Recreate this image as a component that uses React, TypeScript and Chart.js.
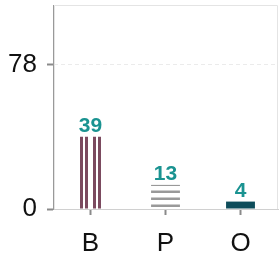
import React, { useEffect, useRef } from "react";
import { Chart, registerables } from "chart.js";

Chart.register(...registerables);

const categories = ["B", "P", "O"];
const values = [39, 13, 4];
const yTickValues = [0, 78];
const yMax = 110;

const FONT = "'Liberation Sans', Arial, sans-serif";

function verticalStripes(color: string) {
  const c = document.createElement("canvas");
  c.width = 13;
  c.height = 10;
  const g = c.getContext("2d")!;
  g.fillStyle = color;
  g.fillRect(2, 0, 3, 10);
  g.fillRect(7, 0, 3, 10);
  return g.createPattern(c, "repeat")!;
}

function horizontalStripes(color: string) {
  const c = document.createElement("canvas");
  c.width = 10;
  c.height = 7;
  const g = c.getContext("2d")!;
  g.fillStyle = color;
  g.fillRect(0, 1.5, 10, 2.5);
  return g.createPattern(c, "repeat")!;
}

const framePlugin = {
  id: "frame",
  beforeDatasetsDraw(chart: any) {
    const { ctx, chartArea } = chart;
    ctx.save();
    ctx.strokeStyle = "#e4e4e4";
    ctx.lineWidth = 1;
    ctx.beginPath();
    ctx.moveTo(chartArea.left + 1.5, chartArea.bottom);
    ctx.lineTo(chartArea.left + 1.5, chartArea.top + 0.5);
    ctx.lineTo(chartArea.right - 0.5, chartArea.top + 0.5);
    ctx.lineTo(chartArea.right - 0.5, chartArea.bottom);
    ctx.stroke();
    ctx.restore();
  },
};

const labelPlugin = {
  id: "valueLabels",
  afterDatasetsDraw(chart: any) {
    const { ctx } = chart;
    const meta = chart.getDatasetMeta(0);
    ctx.save();
    ctx.font = `bold 21px ${FONT}`;
    ctx.fillStyle = "#1a9391";
    ctx.textAlign = "center";
    ctx.textBaseline = "alphabetic";
    meta.data.forEach((bar: any, i: number) => {
      ctx.fillText(String(values[i]), bar.x, bar.y - 5);
    });
    ctx.restore();
  },
};

export default function App() {
  const ref = useRef<HTMLCanvasElement>(null);

  useEffect(() => {
    const colors = [
      verticalStripes("#7b4a5f"),
      horizontalStripes("#999999"),
      "#0e4d5b",
    ];
    const chart = new Chart(ref.current!, {
      type: "bar",
      data: {
        labels: categories,
        datasets: [
          {
            data: values,
            backgroundColor: colors as any,
            borderWidth: 0,
            barPercentage: 0.55,
            categoryPercentage: 0.7,
          },
        ],
      },
      options: {
        animation: false,
        responsive: true,
        maintainAspectRatio: false,
        layout: { padding: { top: 5, right: 1, left: 0, bottom: 0 } },
        plugins: {
          legend: { display: false },
          tooltip: { enabled: false },
        },
        scales: {
          x: {
            grid: {
              offset: false,
              drawOnChartArea: false,
              drawTicks: true,
              tickLength: 6,
              tickColor: "#8a8a8a",
              tickWidth: 2,
            },
            border: { display: true, color: "#d0d0d0", width: 1 },
            ticks: {
              color: "#111111",
              font: { family: FONT, size: 26 },
              padding: 13,
            },
            afterFit(scale: any) {
              scale.height = 50;
              scale.paddingLeft = 0;
              scale.paddingRight = 0;
            },
          },
          y: {
            min: 0,
            max: yMax,
            afterBuildTicks(scale: any) {
              scale.ticks = yTickValues.map((v) => ({ value: v }));
            },
            grid: {
              color: (c: any) => (c.tick && c.tick.value === 78 ? "#ebebeb" : "rgba(0,0,0,0)"),
              tickLength: 6,
              tickColor: "#8a8a8a",
              tickWidth: 2,
            },
            border: { display: true, color: "#999999", width: 1, dash: [4, 3] },
            ticks: {
              color: "#111111",
              font: { family: FONT, size: 26 },
              padding: 10,
            },
            afterFit(scale: any) {
              scale.width = 53;
              scale.paddingTop = 0;
              scale.paddingBottom = 0;
            },
          },
        },
      },
      plugins: [framePlugin, labelPlugin],
    });
    return () => chart.destroy();
  }, []);

  return (
    <div style={{ position: "fixed", left: 0, top: 0, width: 279, height: 259 }}>
      <canvas ref={ref} />
    </div>
  );
}
